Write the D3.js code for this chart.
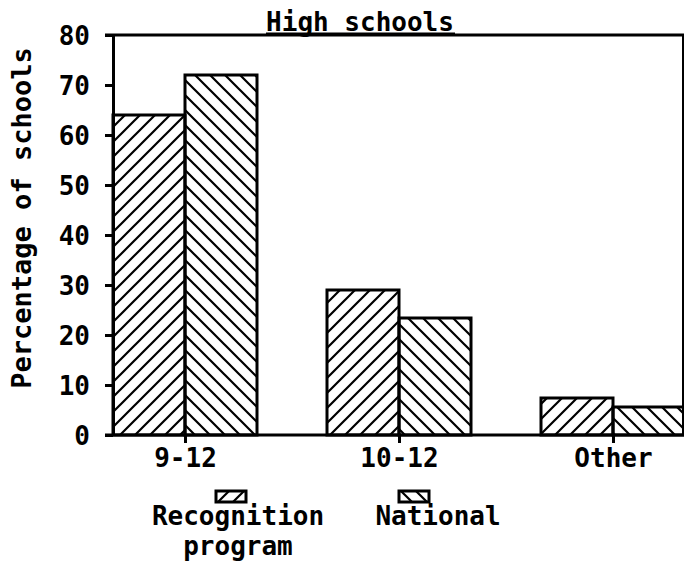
<!DOCTYPE html>
<html>
<head>
<meta charset="utf-8">
<script src="https://cdn.jsdelivr.net/npm/d3@7"></script>
<style>
  html, body { margin: 0; padding: 0; background: #fff; }
  svg { display: block; }
  text { font-family: "DejaVu Sans Mono", "Liberation Mono", monospace; font-weight: bold; fill: #000; }
</style>
</head>
<body>
<svg id="chart" width="684" height="567"></svg>
<script>
const categories = ["9-12", "10-12", "Other"];
const seriesNames = ["Recognition", "National"];
const recognition = [64, 29, 7.4];
const national = [72, 23.4, 5.6];
const yTicks = [0, 10, 20, 30, 40, 50, 60, 70, 80];
const title = "High schools";
const yLabel = "Percentage of schools";

const svg = d3.select("#chart");
const W = 684, H = 567;
const fs = 26;

// patterns
const defs = svg.append("defs");
function hatch(id, dir) {
  const s = 15;
  const p = defs.append("pattern").attr("id", id)
    .attr("patternUnits", "userSpaceOnUse")
    .attr("width", s).attr("height", s);
  const d = dir > 0
    ? `M${-s/2},${s/2} L${s/2},${-s/2} M0,${s} L${s},0 M${s/2},${s*1.5} L${s*1.5},${s/2}`
    : `M${-s/2},${s/2} L${s/2},${s*1.5} M0,0 L${s},${s} M${s/2},${-s/2} L${s*1.5},${s/2}`;
  p.append("path").attr("d", d).attr("stroke", "#000").attr("stroke-width", 2.2).attr("fill", "none");
}
hatch("h-rec", 1);
hatch("h-nat", -1);
const fills = { "Recognition": "url(#h-rec)", "National": "url(#h-nat)" };

const y = d3.scaleLinear().domain([0, 80]).range([435, 35]);
const x = d3.scalePoint().domain(categories).range([185, 613]);
const xs = d3.scaleBand().domain(seriesNames).range([-72, 72]);

const rows = categories.map((c, i) => ({ cat: c, vals: [
  { s: "Recognition", v: recognition[i] },
  { s: "National", v: national[i] }
]}));

// bars
const g = svg.append("g");
rows.forEach(r => {
  r.vals.forEach(d => {
    g.append("rect")
      .attr("x", x(r.cat) + xs(d.s))
      .attr("y", y(d.v))
      .attr("width", xs.bandwidth())
      .attr("height", y(0) - y(d.v))
      .attr("fill", fills[d.s])
      .attr("stroke", "#000")
      .attr("stroke-width", 3);
  });
});

// frame: top and right
svg.append("line").attr("x1", 105).attr("x2", W).attr("y1", y(80)).attr("y2", y(80))
  .attr("stroke", "#000").attr("stroke-width", 3);
svg.append("line").attr("x1", 683).attr("x2", 683).attr("y1", y(80)).attr("y2", y(0))
  .attr("stroke", "#000").attr("stroke-width", 2);
// baseline
svg.append("line").attr("x1", 105).attr("x2", W).attr("y1", y(0)).attr("y2", y(0))
  .attr("stroke", "#000").attr("stroke-width", 3);

// y axis
const ya = svg.append("g").attr("transform", "translate(113,0)")
  .call(d3.axisLeft(y).tickValues(yTicks).tickSize(8).tickSizeOuter(0).tickPadding(15));
ya.select(".domain").attr("stroke-width", 3);
ya.selectAll(".tick line").attr("stroke-width", 3);
ya.selectAll("text").attr("font-size", fs).attr("font-family", null).attr("dy", "0.36em");

// x axis
const xa = svg.append("g").attr("transform", `translate(0,${y(0)})`)
  .call(d3.axisBottom(x).tickSize(8).tickPadding(6));
xa.select(".domain").remove();
xa.selectAll(".tick line").attr("stroke-width", 3);
xa.selectAll("text").attr("font-size", fs).attr("font-family", null);

// title
svg.append("text").attr("x", 360).attr("y", 30.5).attr("text-anchor", "middle")
  .attr("font-size", fs).text(title);
svg.append("line").attr("x1", 266).attr("x2", 455).attr("y1", 33.5).attr("y2", 33.5)
  .attr("stroke", "#000").attr("stroke-width", 2);

// y label
svg.append("text").attr("transform", "translate(31,218) rotate(-90)")
  .attr("text-anchor", "middle").attr("font-size", 27).text(yLabel);

// legend
const legend = [
  { s: "Recognition", cx: 231, lines: ["Recognition", "program"], tx: 238 },
  { s: "National", cx: 414, lines: ["National"], tx: 438 }
];
legend.forEach(l => {
  svg.append("rect").attr("x", l.cx - 15).attr("y", 491).attr("width", 30).attr("height", 11)
    .attr("fill", fills[l.s]).attr("stroke", "#000").attr("stroke-width", 3);
  l.lines.forEach((ln, i) => {
    svg.append("text").attr("x", l.tx).attr("y", 525 + i * 30)
      .attr("text-anchor", "middle").attr("font-size", fs).text(ln);
  });
});
</script>
</body>
</html>
